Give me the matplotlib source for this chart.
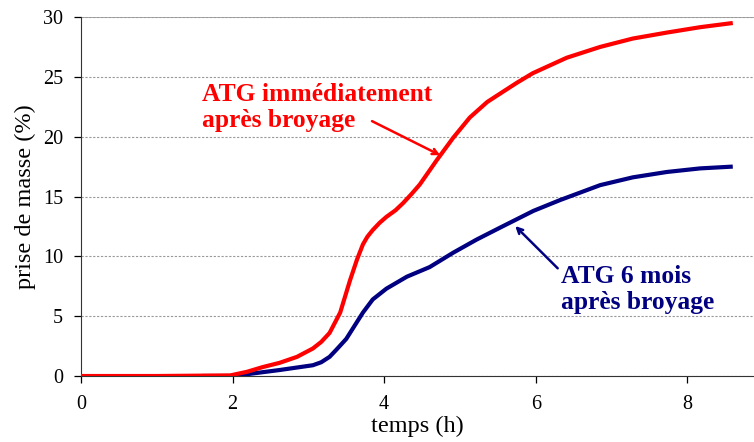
import numpy as np
import matplotlib.pyplot as plt

# temps (h) / prise de masse (%)
t_fresh = [0.0, 1.0, 1.97, 2.19, 2.4, 2.62, 2.85, 3.06, 3.17, 3.28, 3.42, 3.55, 3.64, 3.72, 3.78, 3.85,
           3.94, 4.03, 4.15, 4.25, 4.36, 4.47, 4.69, 4.91, 5.13, 5.36, 5.53, 5.75, 5.96, 6.41, 6.85, 7.28,
           7.73, 8.17, 8.6]
m_fresh = [0.0, 0.0, 0.05, 0.35, 0.75, 1.1, 1.6, 2.3, 2.85, 3.6, 5.3, 8.0, 9.7, 11.0, 11.65, 12.2,
           12.8, 13.3, 13.85, 14.45, 15.2, 16.0, 18.0, 19.9, 21.6, 22.9, 23.6, 24.5, 25.3, 26.6, 27.5, 28.2,
           28.7, 29.15, 29.5]

t_aged = [1.6, 2.0, 2.19, 2.62, 3.06, 3.17, 3.28, 3.37, 3.5, 3.59, 3.72, 3.85, 4.03, 4.3, 4.6,
          4.91, 5.22, 5.53, 5.75, 5.97, 6.32, 6.85, 7.28, 7.73, 8.17, 8.6]
m_aged = [0.0, 0.0, 0.15, 0.5, 0.9, 1.15, 1.6, 2.2, 3.1, 4.0, 5.3, 6.4, 7.3, 8.3, 9.1,
          10.3, 11.4, 12.4, 13.1, 13.8, 14.7, 15.95, 16.6, 17.05, 17.35, 17.5]

plt.rcParams['font.family'] = ['Liberation Serif', 'DejaVu Serif']

fig = plt.figure(figsize=(7.54, 4.42), dpi=100)
ax = fig.add_axes([0.1074, 0.1493, 0.8926, 0.8122])

ax.plot(t_aged, m_aged, color='#000080', lw=3.0, solid_capstyle='butt',
        solid_joinstyle='round', zorder=3)
ax.plot(t_fresh, m_fresh, color='#ff0000', lw=3.0, solid_capstyle='butt',
        solid_joinstyle='round', zorder=4)

ax.set_xlim(0, 8.88)
ax.set_ylim(0, 30)
ax.set_xticks([0, 2, 4, 6, 8])
ax.set_yticks([0, 5, 10, 15, 20, 25, 30])
ax.tick_params(labelsize=14.5, direction='out', length=5, width=0.9)
ax.tick_params(axis='y', pad=8)
ax.tick_params(axis='x', pad=9)
ax.yaxis.grid(True, color='#999999', ls=(0, (2, 1.5)), lw=0.8)
ax.axhline(30, color='#999999', lw=1.2, zorder=2)

for s in ['top', 'right']:
    ax.spines[s].set_visible(False)
ax.spines['left'].set_color('#333333')
ax.spines['bottom'].set_color('#333333')

ax.set_xlabel('temps (h)', fontsize=17.5, labelpad=1)
ax.set_ylabel('prise de masse (%)', fontsize=17.5, labelpad=5)

ax.annotate('ATG immédiatement\naprès broyage', xy=(1.6, 24.5), xytext=(1.6, 24.5),
            color='#ff0000', fontsize=18.4, fontweight='bold', va='top', ha='left',
            linespacing=1.2)
ax.annotate('', xy=(4.74, 18.45), xytext=(3.84, 21.3),
            arrowprops=dict(arrowstyle='->', color='#ff0000', lw=1.8,
                            shrinkA=0, shrinkB=0))

ax.annotate('ATG 6 mois\naprès broyage', xy=(6.33, 9.3), xytext=(6.33, 9.3),
            color='#000080', fontsize=18.4, fontweight='bold', va='top', ha='left',
            linespacing=1.2)
ax.annotate('', xy=(5.73, 12.53), xytext=(6.29, 9.0),
            arrowprops=dict(arrowstyle='->', color='#000080', lw=1.8,
                            shrinkA=0, shrinkB=0))

fig.savefig('out.png', dpi=100)
